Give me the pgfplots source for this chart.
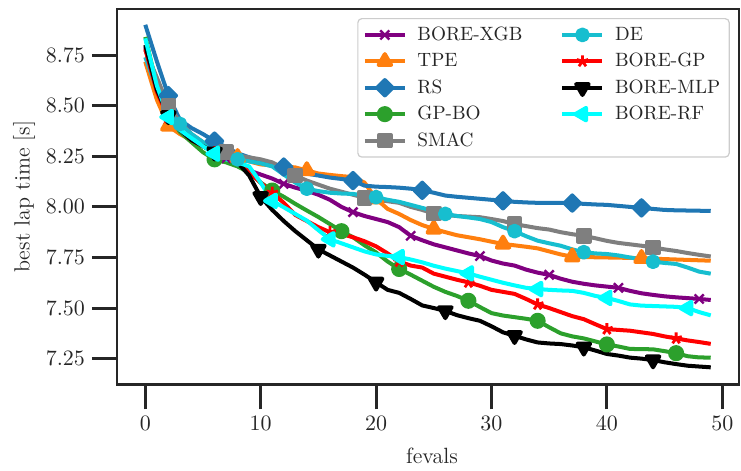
\documentclass[border=0pt]{standalone}
\usepackage{pgfplots}
\usepackage{pgfplotstable}
\pgfplotsset{compat=1.18}
\usetikzlibrary{plotmarks}
\definecolor{cXGB}{HTML}{800080}
\definecolor{cTPE}{HTML}{FF7F0E}
\definecolor{cRS}{HTML}{1F77B4}
\definecolor{cGPBO}{HTML}{2CA02C}
\definecolor{cSMAC}{HTML}{7F7F7F}
\definecolor{cDE}{HTML}{17BECF}
\definecolor{cGP}{HTML}{FF0000}
\definecolor{cMLP}{HTML}{000000}
\definecolor{cRF}{HTML}{00FFFF}
\definecolor{axc}{HTML}{262626}

\pgfplotstableread{
x XGB TPE RS GPBO SMAC DE GP MLP RF
0 8.79 8.717 8.90 8.84 8.775 8.74 8.78 8.80 8.833
1 8.57 8.53 8.72 8.60 8.64 8.58 8.57 8.58 8.60
2 8.43 8.40 8.55 8.46 8.50 8.47 8.44 8.45 8.444
3 8.37 8.36 8.43 8.37 8.42 8.41 8.38 8.38 8.38
4 8.33 8.33 8.39 8.32 8.36 8.36 8.33 8.33 8.34
5 8.30 8.30 8.36 8.27 8.32 8.32 8.30 8.30 8.30
6 8.27 8.28 8.325 8.235 8.29 8.29 8.27 8.27 8.263
7 8.24 8.26 8.295 8.22 8.27 8.255 8.24 8.24 8.235
8 8.22 8.245 8.265 8.20 8.255 8.235 8.22 8.22 8.22
9 8.18 8.225 8.245 8.17 8.245 8.225 8.17 8.155 8.20
10 8.16 8.21 8.225 8.12 8.235 8.215 8.12 8.05 8.12
11 8.14 8.205 8.21 8.081 8.22 8.20 8.07 7.985 8.03
12 8.114 8.20 8.197 8.05 8.19 8.16 8.02 7.93 7.998
13 8.095 8.195 8.18 8.015 8.155 8.12 7.96 7.88 7.965
14 8.08 8.18 8.164 7.982 8.13 8.09 7.93 7.835 7.932
15 8.06 8.165 8.155 7.95 8.11 8.078 7.90 7.79 7.885
16 8.035 8.158 8.145 7.915 8.09 8.07 7.875 7.76 7.84
17 8.00 8.152 8.138 7.88 8.075 8.066 7.866 7.73 7.82
18 7.974 8.147 8.13 7.85 8.06 8.064 7.85 7.70 7.80
19 7.955 8.12 8.105 7.81 8.045 8.056 7.83 7.665 7.78
20 7.94 8.04 8.10 7.775 8.035 8.048 7.805 7.627 7.765
21 7.925 7.99 8.098 7.73 8.028 8.035 7.77 7.59 7.758
22 7.90 7.965 8.095 7.693 8.02 8.025 7.73 7.575 7.752
23 7.857 7.935 8.09 7.665 8.00 8.01 7.71 7.545 7.74
24 7.835 7.91 8.082 7.635 7.985 7.995 7.70 7.513 7.726
25 7.815 7.891 8.07 7.605 7.967 7.98 7.67 7.50 7.709
26 7.80 7.875 8.056 7.58 7.96 7.965 7.655 7.486 7.695
27 7.785 7.86 8.05 7.56 7.955 7.955 7.64 7.465 7.683
28 7.77 7.85 8.045 7.536 7.952 7.948 7.627 7.45 7.671
29 7.757 7.84 8.04 7.505 7.949 7.94 7.61 7.437 7.655
30 7.735 7.828 8.035 7.475 7.94 7.925 7.59 7.41 7.64
31 7.72 7.817 8.03 7.463 7.93 7.90 7.58 7.38 7.625
32 7.71 7.81 8.025 7.455 7.915 7.88 7.57 7.363 7.612
33 7.69 7.803 8.022 7.447 7.905 7.855 7.545 7.345 7.60
34 7.675 7.795 8.02 7.437 7.895 7.833 7.518 7.33 7.594
35 7.664 7.78 8.02 7.405 7.888 7.82 7.50 7.325 7.59
36 7.645 7.765 8.02 7.375 7.875 7.808 7.48 7.322 7.587
37 7.63 7.754 8.019 7.36 7.865 7.79 7.46 7.315 7.585
38 7.62 7.752 8.015 7.35 7.857 7.776 7.445 7.306 7.575
39 7.612 7.751 8.012 7.335 7.845 7.77 7.42 7.29 7.56
40 7.606 7.75 8.01 7.32 7.832 7.767 7.396 7.273 7.55
41 7.60 7.749 8.005 7.31 7.822 7.76 7.392 7.265 7.535
42 7.585 7.748 8.00 7.298 7.815 7.75 7.388 7.255 7.518
43 7.573 7.746 7.995 7.297 7.808 7.74 7.38 7.25 7.512
44 7.565 7.744 7.99 7.296 7.80 7.729 7.372 7.243 7.51
45 7.558 7.742 7.985 7.287 7.79 7.723 7.36 7.232 7.508
46 7.553 7.74 7.983 7.277 7.782 7.718 7.35 7.223 7.506
47 7.549 7.738 7.982 7.262 7.772 7.70 7.34 7.215 7.50
48 7.545 7.736 7.981 7.256 7.763 7.68 7.332 7.211 7.48
49 7.54 7.734 7.98 7.255 7.755 7.67 7.323 7.207 7.464
}\data

\tikzset{
  sXGB/.style={cXGB, line width=2pt, line join=round, mark=x, mark size=3.2pt, mark options={solid, line width=1.2pt}},
  sTPE/.style={cTPE, line width=2pt, line join=round, mark=triangle*, mark size=3.6pt, mark options={solid}},
  sRS/.style={cRS, line width=2pt, line join=round, mark=square*, mark size=2.7pt, mark options={solid, rotate=45}},
  sGPBO/.style={cGPBO, line width=2pt, line join=round, mark=*, mark size=3pt, mark options={solid}},
  sSMAC/.style={cSMAC, line width=2pt, line join=round, mark=square*, mark size=2.9pt, mark options={solid}},
  sDE/.style={cDE, line width=2pt, line join=round, mark=*, mark size=2.7pt, mark options={solid}},
  sGP/.style={cGP, line width=2pt, line join=round, mark=star, mark size=3pt, mark options={solid, line width=1.4pt}},
  sMLP/.style={cMLP, line width=2pt, line join=round, mark=triangle*, mark size=3.6pt, mark options={solid, rotate=180}},
  sRF/.style={cRF, line width=2pt, line join=round, mark=triangle*, mark size=3.6pt, mark options={solid, rotate=90}},
}

\begin{document}
\begin{tikzpicture}
\begin{axis}[
  scale only axis,
  width=310.15pt, height=187.15pt,
  xmin=-2.45, xmax=51.45, ymin=7.123, ymax=8.978,
  xtick={0,10,20,30,40,50},
  ytick={7.25,7.5,7.75,8.0,8.25,8.5,8.75},
  yticklabel style={/pgf/number format/.cd, fixed, fixed zerofill, precision=2},
  xtick pos=bottom, ytick pos=left,
  tick align=outside,
  major tick length=12.5pt,
  tick style={line width=1.5pt, color=axc},
  axis line style={line width=1.25pt, color=axc},
  ticklabel style={font=\fontsize{11}{13}\selectfont, text=axc},
  xlabel={fevals}, ylabel={best lap time [s]},
  label style={font=\fontsize{11}{13}\selectfont, text=axc},
  xlabel style={at={(axis description cs:0.5,0)}, anchor=center, yshift=-35.9pt, xshift=2pt},
  ylabel style={at={(axis description cs:-0.1494,0.5)}, anchor=center},
  legend columns=2,
  legend cell align=left,
  legend style={at={(axis description cs:0.9852,0.976)}, anchor=north east,
    draw=black!20, line width=0.6pt, rounded corners=2pt, fill=white,
    font=\fontsize{9.6}{11}\selectfont, text=axc,
    inner xsep=2.5pt, inner ysep=2pt, row sep=0.9pt,
    /tikz/column 1/.append style={column sep=3.3pt},
    /tikz/column 2/.append style={column sep=17pt},
    /tikz/column 3/.append style={column sep=3.3pt}},
  legend image code/.code={\draw[mark repeat=2,mark phase=2] plot coordinates {(0cm,0cm) (0.35cm,0cm) (0.7cm,0cm)};},
]
\addplot[sXGB, forget plot, mark indices={3,8,13,19,24,30,36,42,49}] table[x=x,y=XGB] {\data};
\addplot[sTPE, forget plot, mark indices={3,9,15,21,26,32,38,44}] table[x=x,y=TPE] {\data};
\addplot[sRS, forget plot, mark indices={3,7,13,19,25,32,38,44}] table[x=x,y=RS] {\data};
\addplot[sGPBO, forget plot, mark indices={7,12,18,23,29,35,41,47}] table[x=x,y=GPBO] {\data};
\addplot[sSMAC, forget plot, mark indices={3,8,14,20,26,33,39,45}] table[x=x,y=SMAC] {\data};
\addplot[sDE, forget plot, mark indices={4,9,15,21,27,33,39,45}] table[x=x,y=DE] {\data};
\addplot[sGP, forget plot, mark indices={3,7,12,17,23,29,35,41,47}] table[x=x,y=GP] {\data};
\addplot[sMLP, forget plot, mark indices={3,7,11,16,21,27,33,39,45}] table[x=x,y=MLP] {\data};
\addplot[sRF, forget plot, mark indices={3,7,12,17,23,29,35,41,48}] table[x=x,y=RF] {\data};

\addlegendimage{sXGB}\addlegendentry{BORE-XGB}
\addlegendimage{sDE}\addlegendentry{DE}
\addlegendimage{sTPE}\addlegendentry{TPE}
\addlegendimage{sGP}\addlegendentry{BORE-GP}
\addlegendimage{sRS}\addlegendentry{RS}
\addlegendimage{sMLP}\addlegendentry{BORE-MLP}
\addlegendimage{sGPBO}\addlegendentry{GP-BO}
\addlegendimage{sRF}\addlegendentry{BORE-RF}
\addlegendimage{sSMAC}\addlegendentry{SMAC}

\coordinate (SW) at (rel axis cs:0,0);
\coordinate (NE) at (rel axis cs:1,1);
\end{axis}
\path ([shift={(-58.35pt,-42.35pt)}]SW) rectangle ([shift={(1pt,4.5pt)}]NE);
\end{tikzpicture}
\end{document}
